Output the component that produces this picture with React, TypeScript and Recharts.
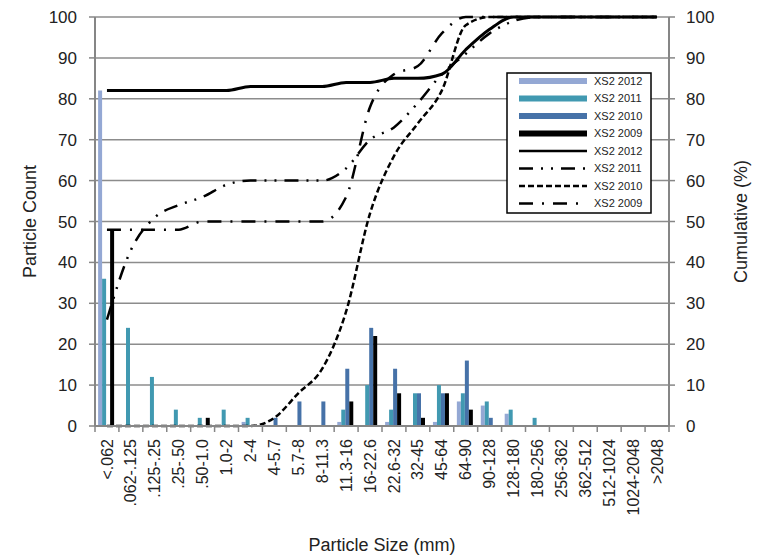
/**
 * Particle size distribution chart (counts + cumulative %)
 */

import React from 'react';
import {
  ComposedChart,
  Bar,
  Line,
  XAxis,
  YAxis,
  CartesianGrid,
  Legend,
  Label,
} from 'recharts';

const categories = [
  '<.062', '.062-.125', '.125-.25', '.25-.50', '.50-1.0', '1.0-2', '2-4', '4-5.7',
  '5.7-8', '8-11.3', '11.3-16', '16-22.6', '22.6-32', '32-45', '45-64', '64-90',
  '90-128', '128-180', '180-256', '256-362', '362-512', '512-1024', '1024-2048', '>2048',
];

// particle counts per size class
const count2012 = [82, 0, 0, 0, 0, 0, 1, 0, 0, 0, 1, 0, 1, 0, 1, 6, 5, 3, 0, 0, 0, 0, 0, 0];
const count2011 = [36, 24, 12, 4, 2, 4, 2, 0, 0, 0, 4, 10, 4, 8, 10, 8, 6, 4, 2, 0, 0, 0, 0, 0];
const count2010 = [0, 0, 0, 0, 0, 0, 0, 2, 6, 6, 14, 24, 14, 8, 8, 16, 2, 0, 0, 0, 0, 0, 0, 0];
const count2009 = [48, 0, 0, 0, 2, 0, 0, 0, 0, 0, 6, 22, 8, 2, 8, 4, 0, 0, 0, 0, 0, 0, 0, 0];

// cumulative percent finer
const cum2012 = [82, 82, 82, 82, 82, 82, 83, 83, 83, 83, 84, 84, 85, 85, 86, 92, 97, 100, 100, 100, 100, 100, 100, 100];
const cum2011 = [26, 43, 51, 54, 56, 59, 60, 60, 60, 60, 63, 70, 73, 79, 86, 91, 96, 99, 100, 100, 100, 100, 100, 100];
const cum2010 = [0, 0, 0, 0, 0, 0, 0, 2, 8, 14, 28, 52, 66, 74, 82, 98, 100, 100, 100, 100, 100, 100, 100, 100];
const cum2009 = [48, 48, 48, 48, 50, 50, 50, 50, 50, 50, 56, 78, 86, 88, 96, 100, 100, 100, 100, 100, 100, 100, 100, 100];

const yTicks = [0, 10, 20, 30, 40, 50, 60, 70, 80, 90, 100];

const chartData = categories.map((name, i) => ({
  name,
  c2012: count2012[i],
  c2011: count2011[i],
  c2010: count2010[i],
  c2009: count2009[i],
  p2012: cum2012[i],
  p2011: cum2011[i],
  p2010: cum2010[i],
  p2009: cum2009[i],
}));

const FONT = '"Liberation Sans", Arial, sans-serif';
const TEXT = '#222';
const AXIS = '#868686';
const GRID = '#8c8c8c';

const WIDTH = 764;
const HEIGHT = 559;
const Y_AXIS_W = 95;
const band = (WIDTH - 2 * Y_AXIS_W) / categories.length;

const legendItems = [
  { label: 'XS2 2012', kind: 'bar', color: '#94a8d4', h: 6 },
  { label: 'XS2 2011', kind: 'bar', color: '#4199b1', h: 6 },
  { label: 'XS2 2010', kind: 'bar', color: '#4672a8', h: 6 },
  { label: 'XS2 2009', kind: 'bar', color: '#000', h: 6 },
  { label: 'XS2 2012', kind: 'line', dash: undefined, w: 2.5 },
  { label: 'XS2 2011', kind: 'line', dash: '14 8 2 8 2 8', w: 2.5 },
  { label: 'XS2 2010', kind: 'line', dash: '6 3', w: 2.5 },
  { label: 'XS2 2009', kind: 'line', dash: '14 9 2 9', w: 2.5 },
];

const LegendBox = () => (
  <svg width={146} height={142} style={{ display: 'block' }}>
    <rect x={1} y={1} width={144} height={140} fill="#fff" stroke="#000" strokeWidth={1.5} />
    {legendItems.map((it, i) => {
      const cy = 9 + i * 17.5;
      return (
        <g key={i}>
          {it.kind === 'bar' ? (
            <rect x={13} y={cy - (it.h as number) / 2} width={68} height={it.h} fill={it.color} />
          ) : (
            <line x1={13} x2={81} y1={cy} y2={cy} stroke="#000" strokeWidth={it.w} strokeDasharray={it.dash} />
          )}
          <text x={88} y={cy} dy="0.35em" fontSize={11} fill={TEXT} fontFamily={FONT}>
            {it.label}
          </text>
        </g>
      );
    })}
  </svg>
);

const SizeTick = ({ x, y, payload, index }: any) => {
  const axisY = y - 13;
  return (
    <g>
      <line x1={x - band / 2} x2={x - band / 2} y1={axisY} y2={axisY + 6} stroke={AXIS} strokeWidth={1.5} />
      {index === categories.length - 1 && (
        <line x1={x + band / 2} x2={x + band / 2} y1={axisY} y2={axisY + 6} stroke={AXIS} strokeWidth={1.5} />
      )}
      <text
        transform={`translate(${x},${y}) rotate(-90)`}
        textAnchor="end"
        dy="0.35em"
        fontSize={16}
        fill={TEXT}
        fontFamily={FONT}
      >
        {payload.value}
      </text>
    </g>
  );
};

const axisTitle = (text: string, x: number) => ({ viewBox }: any) => {
  const cy = viewBox.y + viewBox.height / 2;
  return (
    <text
      transform={`translate(${x},${cy}) rotate(-90)`}
      textAnchor="middle"
      dy="0.35em"
      fontSize={18}
      fill={TEXT}
      fontFamily={FONT}
    >
      {text}
    </text>
  );
};

export default function App() {
  return (
    <div style={{ position: 'absolute', left: 0, top: 0 }}>
      <ComposedChart
        width={WIDTH}
        height={HEIGHT}
        data={chartData}
        margin={{ top: 17, right: 0, bottom: 0, left: 0 }}
        barCategoryGap="13%"
        barGap={0}
      >
        <CartesianGrid yAxisId="left" horizontal vertical={false} stroke={GRID} strokeWidth={1.5} />
        <XAxis
          dataKey="name"
          interval={0}
          height={133}
          tickLine={false}
          tickSize={6}
          tickMargin={7}
          axisLine={{ stroke: AXIS, strokeWidth: 2 }}
          tick={<SizeTick />}
        >
          <Label
            content={({ viewBox }: any) => (
              <text
                x={viewBox.x + viewBox.width / 2}
                y={545}
                textAnchor="middle"
                dy="0.35em"
                fontSize={18}
                fill={TEXT}
                fontFamily={FONT}
              >
                Particle Size (mm)
              </text>
            )}
          />
        </XAxis>
        <YAxis
          yAxisId="left"
          width={Y_AXIS_W}
          domain={[0, 100]}
          ticks={yTicks}
          interval={0}
          tickSize={6}
          tickMargin={12}
          axisLine={{ stroke: AXIS, strokeWidth: 2 }}
          tickLine={{ stroke: AXIS, strokeWidth: 1.5 }}
          tick={{ fontSize: 17, fill: TEXT, fontFamily: FONT }}
        >
          <Label content={axisTitle('Particle Count', 30)} />
        </YAxis>
        <YAxis
          yAxisId="right"
          orientation="right"
          width={Y_AXIS_W}
          domain={[0, 100]}
          ticks={yTicks}
          interval={0}
          tickSize={6}
          tickMargin={11}
          axisLine={{ stroke: AXIS, strokeWidth: 2 }}
          tickLine={{ stroke: AXIS, strokeWidth: 1.5 }}
          tick={{ fontSize: 17, fill: TEXT, fontFamily: FONT }}
        >
          <Label content={axisTitle('Cumulative (%)', 741)} />
        </YAxis>

        <Bar yAxisId="left" dataKey="c2012" fill="#94a8d4" isAnimationActive={false} />
        <Bar yAxisId="left" dataKey="c2011" fill="#4199b1" isAnimationActive={false} />
        <Bar yAxisId="left" dataKey="c2010" fill="#4672a8" isAnimationActive={false} />
        <Bar yAxisId="left" dataKey="c2009" fill="#000" isAnimationActive={false} />

        <Line yAxisId="right" type="monotone" dataKey="p2012" stroke="#000" strokeWidth={3} dot={false} isAnimationActive={false} />
        <Line yAxisId="right" type="monotone" dataKey="p2011" stroke="#000" strokeWidth={2.5} strokeDasharray="14 8 2 8 2 8" dot={false} isAnimationActive={false} />
        <Line yAxisId="right" type="monotone" dataKey="p2010" stroke="#000" strokeWidth={2.5} strokeDasharray="6 3" dot={false} isAnimationActive={false} />
        <Line yAxisId="right" type="monotone" dataKey="p2009" stroke="#000" strokeWidth={2.5} strokeDasharray="14 9 2 9" dot={false} isAnimationActive={false} />

        <Legend
          layout="vertical"
          align="center"
          verticalAlign="middle"
          content={<LegendBox />}
          wrapperStyle={{ left: 506, top: 72, width: 146, height: 142 }}
        />
      </ComposedChart>
    </div>
  );
}
